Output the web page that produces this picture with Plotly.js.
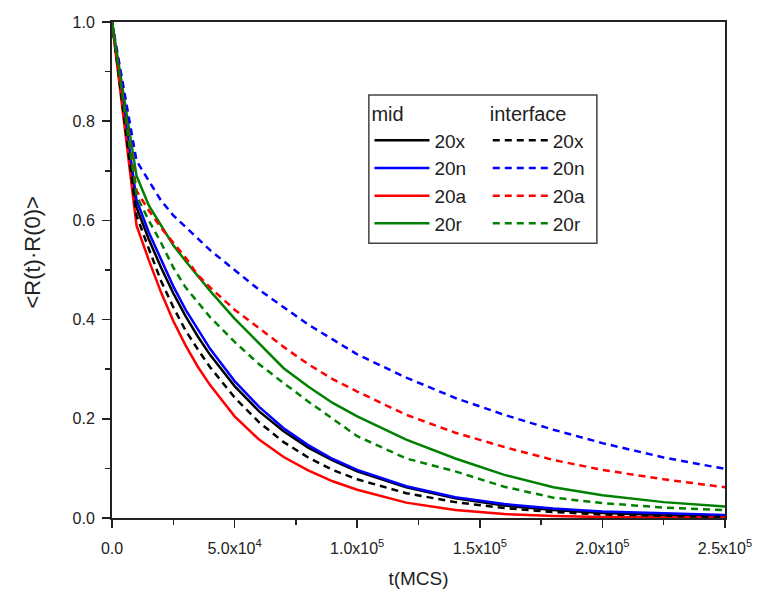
<!DOCTYPE html>
<html>
<head>
<meta charset="utf-8">
<script src="https://cdn.plot.ly/plotly-3.0.1.min.js"></script>
<style>html,body{margin:0;padding:0;background:#fff;}#chart{width:757px;height:595px;}</style>
</head>
<body>
<div id="chart"></div>
<script>
// time (MCS)
const t = [0, 10000, 15000, 20000, 25000, 30000, 35000, 40000, 50000, 60000, 70000, 80000, 90000, 100000, 120000, 140000, 160000, 180000, 200000, 225000, 250000];

// mid
const mid20x = [1.0, 0.626, 0.562, 0.505, 0.453, 0.407, 0.366, 0.329, 0.266, 0.215, 0.175, 0.142, 0.116, 0.094, 0.062, 0.040, 0.025, 0.016, 0.010, 0.006, 0.004];
const mid20n = [1.0, 0.641, 0.576, 0.520, 0.467, 0.420, 0.380, 0.341, 0.276, 0.224, 0.181, 0.147, 0.119, 0.097, 0.064, 0.042, 0.028, 0.019, 0.013, 0.009, 0.006];
const mid20a = [1.0, 0.590, 0.520, 0.455, 0.397, 0.348, 0.305, 0.268, 0.205, 0.158, 0.123, 0.096, 0.074, 0.057, 0.031, 0.016, 0.008, 0.004, 0.002, 0.001, 0.001];
const mid20r = [1.0, 0.690, 0.630, 0.590, 0.550, 0.518, 0.488, 0.458, 0.402, 0.353, 0.302, 0.265, 0.232, 0.205, 0.158, 0.120, 0.087, 0.062, 0.046, 0.032, 0.023];

// interface
const int20x = [1.0, 0.610, 0.543, 0.478, 0.425, 0.378, 0.340, 0.304, 0.243, 0.193, 0.153, 0.122, 0.097, 0.078, 0.050, 0.032, 0.020, 0.012, 0.007, 0.004, 0.002];
const int20n = [1.0, 0.720, 0.680, 0.640, 0.610, 0.587, 0.563, 0.540, 0.500, 0.460, 0.425, 0.390, 0.360, 0.330, 0.283, 0.242, 0.208, 0.178, 0.151, 0.122, 0.099];
const int20a = [1.0, 0.660, 0.620, 0.585, 0.555, 0.525, 0.490, 0.465, 0.420, 0.382, 0.345, 0.310, 0.280, 0.255, 0.208, 0.172, 0.143, 0.117, 0.097, 0.078, 0.062];
const int20r = [1.0, 0.650, 0.600, 0.555, 0.505, 0.465, 0.435, 0.405, 0.355, 0.310, 0.272, 0.235, 0.200, 0.165, 0.120, 0.094, 0.063, 0.041, 0.030, 0.021, 0.016];

const seriesNames = ['20x', '20n', '20a', '20r'];
const seriesColors = ['#000000', '#0000ff', '#ff0000', '#008000'];

const xTickVals = [0, 50000, 100000, 150000, 200000, 250000];
const xTickText = ['0.0', '5.0x10<sup>4</sup>', '1.0x10<sup>5</sup>', '1.5x10<sup>5</sup>', '2.0x10<sup>5</sup>', '2.5x10<sup>5</sup>'];
const xMinorVals = [25000, 75000, 125000, 175000, 225000];
const yTickVals = [0, 0.2, 0.4, 0.6, 0.8, 1.0];
const yTickText = ['0.0', '0.2', '0.4', '0.6', '0.8', '1.0'];
const yMinorVals = [0.1, 0.3, 0.5, 0.7, 0.9];

const xTitle = 't(MCS)';
const yTitle = '&lt;R(t)·R(0)&gt;';

const midData = [mid20x, mid20n, mid20a, mid20r];
const intData = [int20x, int20n, int20a, int20r];

const FONT = 'Liberation Sans, Arial, sans-serif';
const INK = '#222';
const traces = [];
midData.forEach((y, i) => {
  traces.push({
    x: t, y: y, type: 'scatter', mode: 'lines', name: seriesNames[i],
    line: {color: seriesColors[i], width: 2.5},
    legend: 'legend', legendgroup: 'm' + i
  });
});
intData.forEach((y, i) => {
  traces.push({
    x: t, y: y, type: 'scatter', mode: 'lines', name: seriesNames[i],
    line: {color: seriesColors[i], width: 2.5, dash: '7px,5px'},
    legend: 'legend2', legendgroup: 'i' + i
  });
});

const axisCommon = {
  showline: true, linecolor: INK, linewidth: 2, mirror: true,
  ticks: 'outside', ticklen: 8, tickwidth: 1.5, tickcolor: INK,
  showgrid: false, zeroline: false
};

const legendCommon = {
  xanchor: 'left', yanchor: 'top',
  bgcolor: 'rgba(0,0,0,0)', borderwidth: 0,
  font: {family: FONT, size: 19, color: INK},
  tracegroupgap: 0, itemwidth: 55
};

const layout = {
  width: 757, height: 595,
  margin: {l: 112, r: 32, t: 22, b: 77},
  paper_bgcolor: '#fff', plot_bgcolor: '#fff',
  font: {family: FONT, color: INK},
  xaxis: Object.assign({}, axisCommon, {
    range: [0, 250000], tickmode: 'array', tickvals: xTickVals, ticktext: xTickText,
    tickfont: {family: FONT, size: 16, color: INK}, ticklabelstandoff: 7,
    minor: {tickmode: 'array', tickvals: xMinorVals, ticks: 'outside', ticklen: 5, tickcolor: INK, tickwidth: 1.5},
    title: {text: xTitle, font: {family: FONT, size: 19, color: INK}, standoff: 15}
  }),
  yaxis: Object.assign({}, axisCommon, {
    range: [0, 1.0], tickmode: 'array', tickvals: yTickVals, ticktext: yTickText,
    tickfont: {family: FONT, size: 16, color: INK}, ticklabelstandoff: 4,
    minor: {tickmode: 'array', tickvals: yMinorVals, ticks: 'outside', ticklen: 5, tickcolor: INK, tickwidth: 1.5}
  }),
  annotations: [{
    text: yTitle, xref: 'paper', yref: 'paper', x: -0.129, y: 0.535,
    xanchor: 'center', yanchor: 'middle', textangle: -90, showarrow: false,
    font: {family: FONT, size: 22, color: INK}
  }],
  legend: Object.assign({}, legendCommon, {
    x: 0.42, y: 0.852,
    title: {text: 'mid', font: {family: FONT, size: 20, color: INK}}
  }),
  legend2: Object.assign({}, legendCommon, {
    x: 0.613, y: 0.852,
    title: {text: 'interface', font: {family: FONT, size: 20, color: INK}}
  }),
  shapes: [{
    type: 'rect', xref: 'paper', yref: 'paper',
    x0: 0.419, x1: 0.791, y0: 0.554, y1: 0.853,
    line: {color: '#444', width: 1.5}, fillcolor: 'rgba(0,0,0,0)'
  }]
};

Plotly.newPlot('chart', traces, layout, {staticPlot: true, displayModeBar: false});
</script>
</body>
</html>
